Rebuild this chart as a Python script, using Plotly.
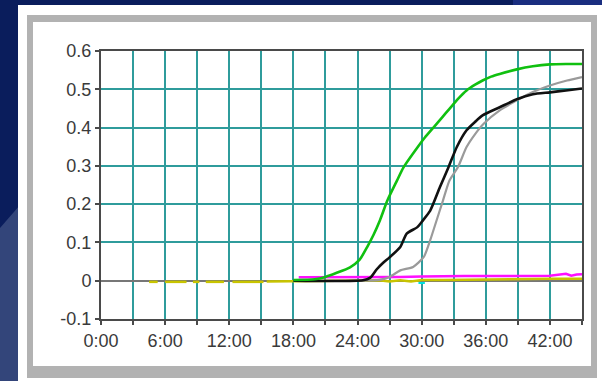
import plotly.graph_objects as go

# ---- data (time in minutes, signal) ----
green_x = [18, 20, 21, 22, 23.3, 24.2, 24.9, 25.5, 26.1, 26.8, 27.7, 28.3, 29.6, 30.3, 31.1, 31.9, 32.6, 33.4, 34.2, 35.0, 35.7, 36.5, 37.3, 38.9, 40.4, 42, 43.5, 45]
green_y = [0.002, 0.004, 0.010, 0.020, 0.035, 0.055, 0.088, 0.120, 0.158, 0.210, 0.262, 0.296, 0.348, 0.374, 0.400, 0.426, 0.449, 0.475, 0.497, 0.512, 0.523, 0.533, 0.540, 0.552, 0.560, 0.565, 0.566, 0.566]

black_x = [18, 24.5, 25.2, 25.8, 26.4, 27.0, 28.0, 28.6, 29.6, 30.1, 30.8, 31.7, 32.5, 33.3, 34.2, 35.0, 35.7, 37.3, 38.9, 40.4, 42, 43.5, 45]
black_y = [0.0, 0.001, 0.008, 0.030, 0.047, 0.061, 0.088, 0.123, 0.140, 0.157, 0.183, 0.244, 0.296, 0.350, 0.393, 0.415, 0.432, 0.453, 0.474, 0.487, 0.492, 0.497, 0.502]

gray_x = [18, 26.0, 27.0, 28.0, 29.2, 30.2, 30.8, 31.4, 32.0, 32.6, 33.4, 34.2, 35.0, 35.8, 37.3, 38.9, 40.4, 42, 43.6, 45]
gray_y = [0.0, 0.002, 0.010, 0.027, 0.036, 0.062, 0.106, 0.158, 0.210, 0.262, 0.297, 0.349, 0.383, 0.410, 0.445, 0.471, 0.493, 0.510, 0.523, 0.532]

magenta_x = [18.5, 20, 22, 24, 26, 28, 30, 32, 34, 36, 38, 40, 42, 43.5, 44, 44.5, 45]
magenta_y = [0.009, 0.009, 0.009, 0.010, 0.010, 0.010, 0.011, 0.012, 0.012, 0.012, 0.012, 0.013, 0.013, 0.018, 0.013, 0.016, 0.017]

yellow_x = [4.5, 5.3, None, 6.0, 8.0, None, 8.6, 9.2, None, 9.8, 11.5, None, 12.3, 15.2, None, 15.5, 18, 20, 22, 24, 26, 27, 28, 29, 30, 32, 34, 36, 38, 40, 42, 44, 45]
yellow_y = [-0.003, -0.003, None, -0.003, -0.003, None, -0.003, -0.003, None, -0.003, -0.003, None, -0.003, -0.003, None, -0.002, -0.002, -0.001, 0.000, 0.000, 0.001, -0.002, 0.001, -0.002, 0.002, 0.002, 0.003, 0.003, 0.004, 0.004, 0.005, 0.005, 0.005]

cyan_x = [29.7, 30.3]
cyan_y = [-0.006, -0.006]

x_tickvals = [0, 3, 6, 9, 12, 15, 18, 21, 24, 27, 30, 33, 36, 39, 42, 45]
x_ticktext = ["0:00", "", "6:00", "", "12:00", "", "18:00", "", "24:00", "", "30:00", "", "36:00", "", "42:00", ""]
y_tickvals = [-0.1, 0, 0.1, 0.2, 0.3, 0.4, 0.5, 0.6]
y_ticktext = ["-0.1", "0", "0.1", "0.2", "0.3", "0.4", "0.5", "0.6"]

W, H = 602, 381
L, R, T, B = 101, 20, 51, 62
PW, PH = W - L - R, H - T - B


def px(x):
    return (x - L) / PW


def py(y):
    return (H - B - y) / PH


fig = go.Figure()
fig.add_trace(go.Scatter(x=yellow_x, y=yellow_y, mode="lines", line=dict(color="#c8c400", width=2.5), connectgaps=False))
fig.add_trace(go.Scatter(x=cyan_x, y=cyan_y, mode="lines", line=dict(color="#00e0e0", width=2)))
fig.add_trace(go.Scatter(x=magenta_x, y=magenta_y, mode="lines", line=dict(color="#ff10ff", width=2.5)))
fig.add_trace(go.Scatter(x=gray_x, y=gray_y, mode="lines", line=dict(color="#9a9a9a", width=2.2, shape="spline", smoothing=0.6)))
fig.add_trace(go.Scatter(x=black_x, y=black_y, mode="lines", line=dict(color="#111111", width=2.6, shape="spline", smoothing=0.6)))
fig.add_trace(go.Scatter(x=green_x, y=green_y, mode="lines", line=dict(color="#10c010", width=2.6, shape="spline", smoothing=0.6)))

shapes = [
    # lighter blue swoosh lower-left
    dict(type="path", xref="paper", yref="paper", layer="below",
         path=f"M {px(0)} {py(228)} L {px(20)} {py(205)} L {px(20)} {py(381)} L {px(0)} {py(381)} Z",
         fillcolor="#33457a", line=dict(width=0)),
    # lighter top-right strip
    dict(type="rect", xref="paper", yref="paper", layer="below",
         x0=px(513), x1=px(602), y0=py(0), y1=py(6), fillcolor="#1a2e80", line=dict(width=0)),
    # white card
    dict(type="rect", xref="paper", yref="paper", layer="below",
         x0=px(18), x1=px(602), y0=py(5), y1=py(381), fillcolor="#ffffff", line=dict(width=0)),
    # gray frame
    dict(type="rect", xref="paper", yref="paper", layer="below",
         x0=px(27), x1=px(597), y0=py(15), y1=py(378), fillcolor="#b2b2b2", line=dict(width=0)),
    dict(type="rect", xref="paper", yref="paper", layer="below",
         x0=px(33), x1=px(591), y0=py(22), y1=py(366), fillcolor="#ffffff", line=dict(width=0)),
]

fig.update_layout(
    width=W, height=H,
    margin=dict(l=L, r=R, t=T, b=B),
    paper_bgcolor="#0a1d5c",
    plot_bgcolor="#ffffff",
    showlegend=False,
    shapes=shapes,
    font=dict(family="Liberation Sans, Arial, sans-serif", size=18, color="#3a3a3a"),
)
fig.update_xaxes(
    range=[0, 45], tickvals=x_tickvals, ticktext=x_ticktext,
    showgrid=True, gridcolor="#2f9c9c", gridwidth=1.6,
    showline=True, linecolor="#4a4a4a", linewidth=2, mirror=True,
    ticks="outside", ticklen=4, tickwidth=2, tickcolor="#4a4a4a",
    zeroline=False, fixedrange=True,
)
fig.update_yaxes(
    range=[-0.1, 0.6], tickvals=y_tickvals, ticktext=y_ticktext,
    showgrid=True, gridcolor="#2f9c9c", gridwidth=1.6,
    showline=True, linecolor="#4a4a4a", linewidth=2, mirror=True,
    ticks="outside", ticklen=4, tickwidth=2, tickcolor="#4a4a4a",
    zeroline=True, zerolinecolor="#777777", zerolinewidth=2, fixedrange=True,
)

fig.write_html(
    "out.html",
    config={"displayModeBar": False},
    post_script="document.body.style.margin='0px';document.body.style.background='#0a1d5c';document.body.style.overflow='hidden';",
)
